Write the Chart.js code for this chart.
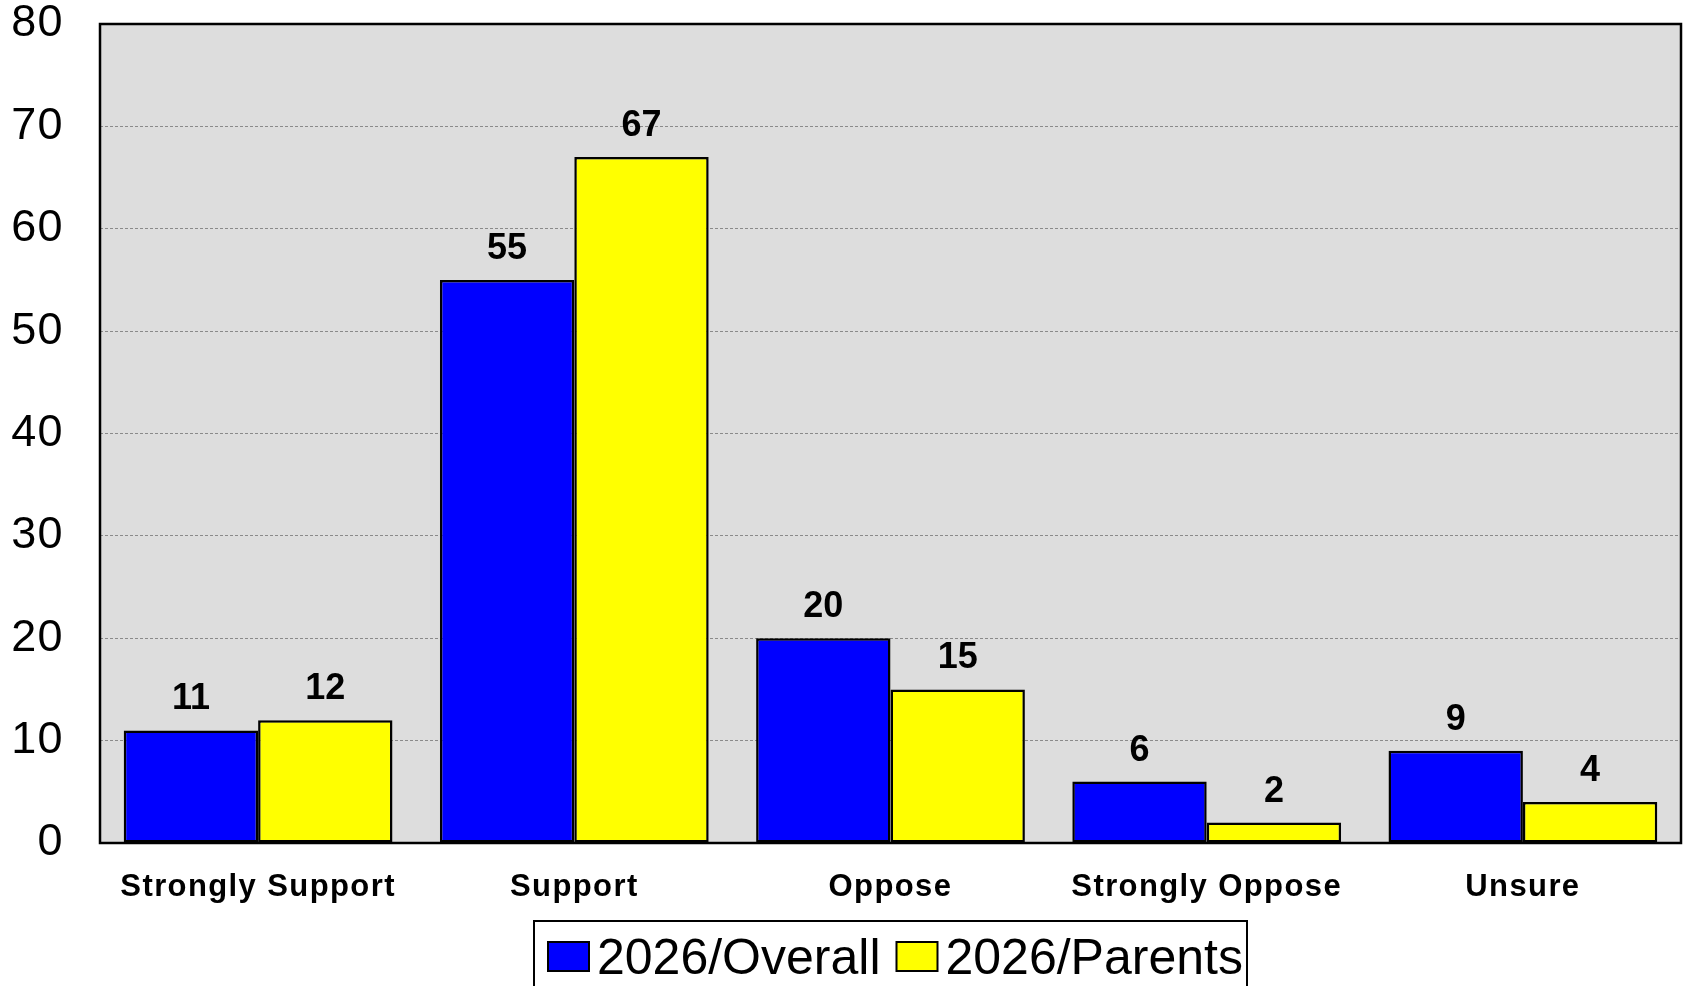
<!DOCTYPE html>
<html>
<head>
<meta charset="utf-8">
<script src="https://cdn.jsdelivr.net/npm/chart.js@4"></script>
<style>
html,body{margin:0;padding:0;background:#fff;}
#wrap{width:1686px;height:986px;position:relative;}
</style>
</head>
<body>
<div id="wrap"><canvas id="c"></canvas></div>
<script>
const categories = ["Strongly Support", "Support", "Oppose", "Strongly Oppose", "Unsure"];
const overall = [11, 55, 20, 6, 9];
const parents = [12, 67, 15, 2, 4];
const seriesNames = ["2026/Overall", "2026/Parents"];
const yTicks = [0, 10, 20, 30, 40, 50, 60, 70, 80];

const FONT = '"Liberation Sans", Arial, sans-serif';

const framePlugin = {
  id: 'frame',
  beforeDraw(chart) {
    const {ctx, chartArea: a} = chart;
    ctx.save();
    ctx.fillStyle = '#ffffff';
    ctx.fillRect(0, 0, chart.width, chart.height);
    ctx.fillStyle = '#dddddd';
    ctx.fillRect(a.left, a.top, a.right - a.left, a.bottom - a.top);
    ctx.restore();
    ctx.letterSpacing = '1.4px';
  },
  afterDatasetsDraw(chart) {
    const {ctx, chartArea: a} = chart;
    ctx.save();
    ctx.letterSpacing = '0px';
    ctx.strokeStyle = '#000';
    ctx.lineWidth = 2.5;
    ctx.strokeRect(a.left, a.top, a.right - a.left, a.bottom - a.top);
    // value labels
    ctx.font = 'bold 36px ' + FONT;
    ctx.fillStyle = '#000';
    ctx.textAlign = 'center';
    ctx.textBaseline = 'alphabetic';
    chart.data.datasets.forEach((ds, i) => {
      chart.getDatasetMeta(i).data.forEach((bar, j) => {
        ctx.fillText(String(ds.data[j]), bar.x, bar.y - 21);
      });
    });
    ctx.restore();
  },
  afterDraw(chart) {
    const ctx = chart.ctx;
    ctx.save();
    ctx.letterSpacing = '0px';
    // legend
    ctx.strokeStyle = '#000';
    ctx.lineWidth = 2;
    ctx.strokeRect(534, 921, 1247 - 534, 80);
    ctx.font = '50px ' + FONT;
    ctx.textBaseline = 'alphabetic';
    ctx.textAlign = 'left';
    let x = 548;
    chart.data.datasets.forEach((ds, i) => {
      ctx.fillStyle = ds.backgroundColor;
      ctx.fillRect(x, 942, 41, 29);
      ctx.strokeStyle = '#000';
      ctx.lineWidth = 2;
      ctx.strokeRect(x, 942, 41, 29);
      ctx.fillStyle = '#000';
      ctx.fillText(ds.label, x + 49, 974);
      x = x + 49 + ctx.measureText(ds.label).width + 16;
    });
    ctx.restore();
    ctx.letterSpacing = '0px';
  }
};

new Chart(document.getElementById('c'), {
  type: 'bar',
  data: {
    labels: categories,
    datasets: [
      {label: seriesNames[0], data: overall, backgroundColor: '#0000ff', borderColor: '#000', borderWidth: 2.5, borderSkipped: false},
      {label: seriesNames[1], data: parents, backgroundColor: '#ffff00', borderColor: '#000', borderWidth: 2.5, borderSkipped: false}
    ]
  },
  options: {
    responsive: true,
    maintainAspectRatio: false,
    animation: false,
    devicePixelRatio: 1,
    layout: {padding: {left: 0, top: 24, right: 5, bottom: 0}},
    datasets: {bar: {categoryPercentage: 0.85, barPercentage: 1.0}},
    plugins: {legend: {display: false}, tooltip: {enabled: false}},
    scales: {
      x: {
        grid: {display: false, drawTicks: false},
        border: {display: false},
        ticks: {
          color: '#000', autoSkip: false, maxRotation: 0, padding: 26,
          font: {family: FONT, size: 31, weight: 'bold'}
        },
        afterFit(scale) { scale.height = 143; scale.paddingLeft = 0; scale.paddingRight = 0; }
      },
      y: {
        min: 0, max: 80,
        afterBuildTicks(scale) { scale.ticks = yTicks.map(v => ({value: v})); },
        grid: {
          drawTicks: false,
          color: (c) => (c.tick && (c.tick.value === 0 || c.tick.value === 80)) ? 'rgba(0,0,0,0)' : '#8a8a8a',
          lineWidth: 1
        },
        border: {display: false, dash: [3, 2]},
        ticks: {color: '#000', padding: 36, font: {family: FONT, size: 45}},
        afterFit(scale) { scale.width = 100; scale.paddingTop = 0; scale.paddingBottom = 0; }
      }
    }
  },
  plugins: [framePlugin]
});
</script>
</body>
</html>
